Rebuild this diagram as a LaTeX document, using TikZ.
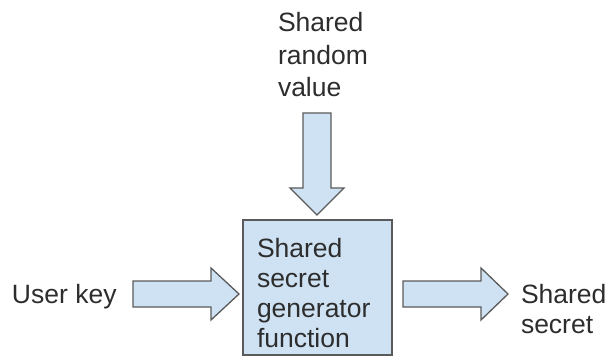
\documentclass[tikz,border=0pt]{standalone}
\usepackage{fontspec}
\setmainfont{Liberation Sans}
\definecolor{fillblue}{RGB}{207,226,243}
\definecolor{edgegray}{RGB}{90,90,90}
\definecolor{textgray}{RGB}{45,45,45}
\begin{document}
\begin{tikzpicture}[x=1pt,y=-1pt,
  lbl/.style={inner sep=0pt, outer sep=0pt, text=textgray, align=left,
    font=\fontsize{26.5}{30}\selectfont},
  fatarrow/.style={fill=fillblue, draw=edgegray, line width=1.3pt, line join=miter},
  boxstyle/.style={fill=fillblue, draw=edgegray, line width=1.3pt}]
\useasboundingbox (0,0) rectangle (613,358);
% central box
\draw[boxstyle] (243,220) rectangle (392,355);
\node[lbl, anchor=base west] (boxtxt) at (257,347) {Shared\\secret\\generator\\function};
% top label
\node[lbl, anchor=base west, font=\fontsize{26.5}{32.5}\selectfont] (toptxt) at (278,97) {Shared\\random\\value};
% left label
\node[lbl, anchor=base west] (usertxt) at (12,303) {User key};
% right label
\node[lbl, anchor=base west] (outtxt) at (521,333) {Shared\\secret};
% down arrow
\draw[fatarrow] (303,113) -- (331,113) -- (331,188) -- (344,188) -- (317,215)
  -- (290,188) -- (303,188) -- cycle;
% left arrow
\draw[fatarrow] (133,281) -- (211,281) -- (211,268) -- (239,294) -- (211,320)
  -- (211,307) -- (133,307) -- cycle;
% right arrow
\draw[fatarrow] (403,281) -- (481,281) -- (481,268) -- (508,294) -- (481,320)
  -- (481,307) -- (403,307) -- cycle;
\end{tikzpicture}
\end{document}
